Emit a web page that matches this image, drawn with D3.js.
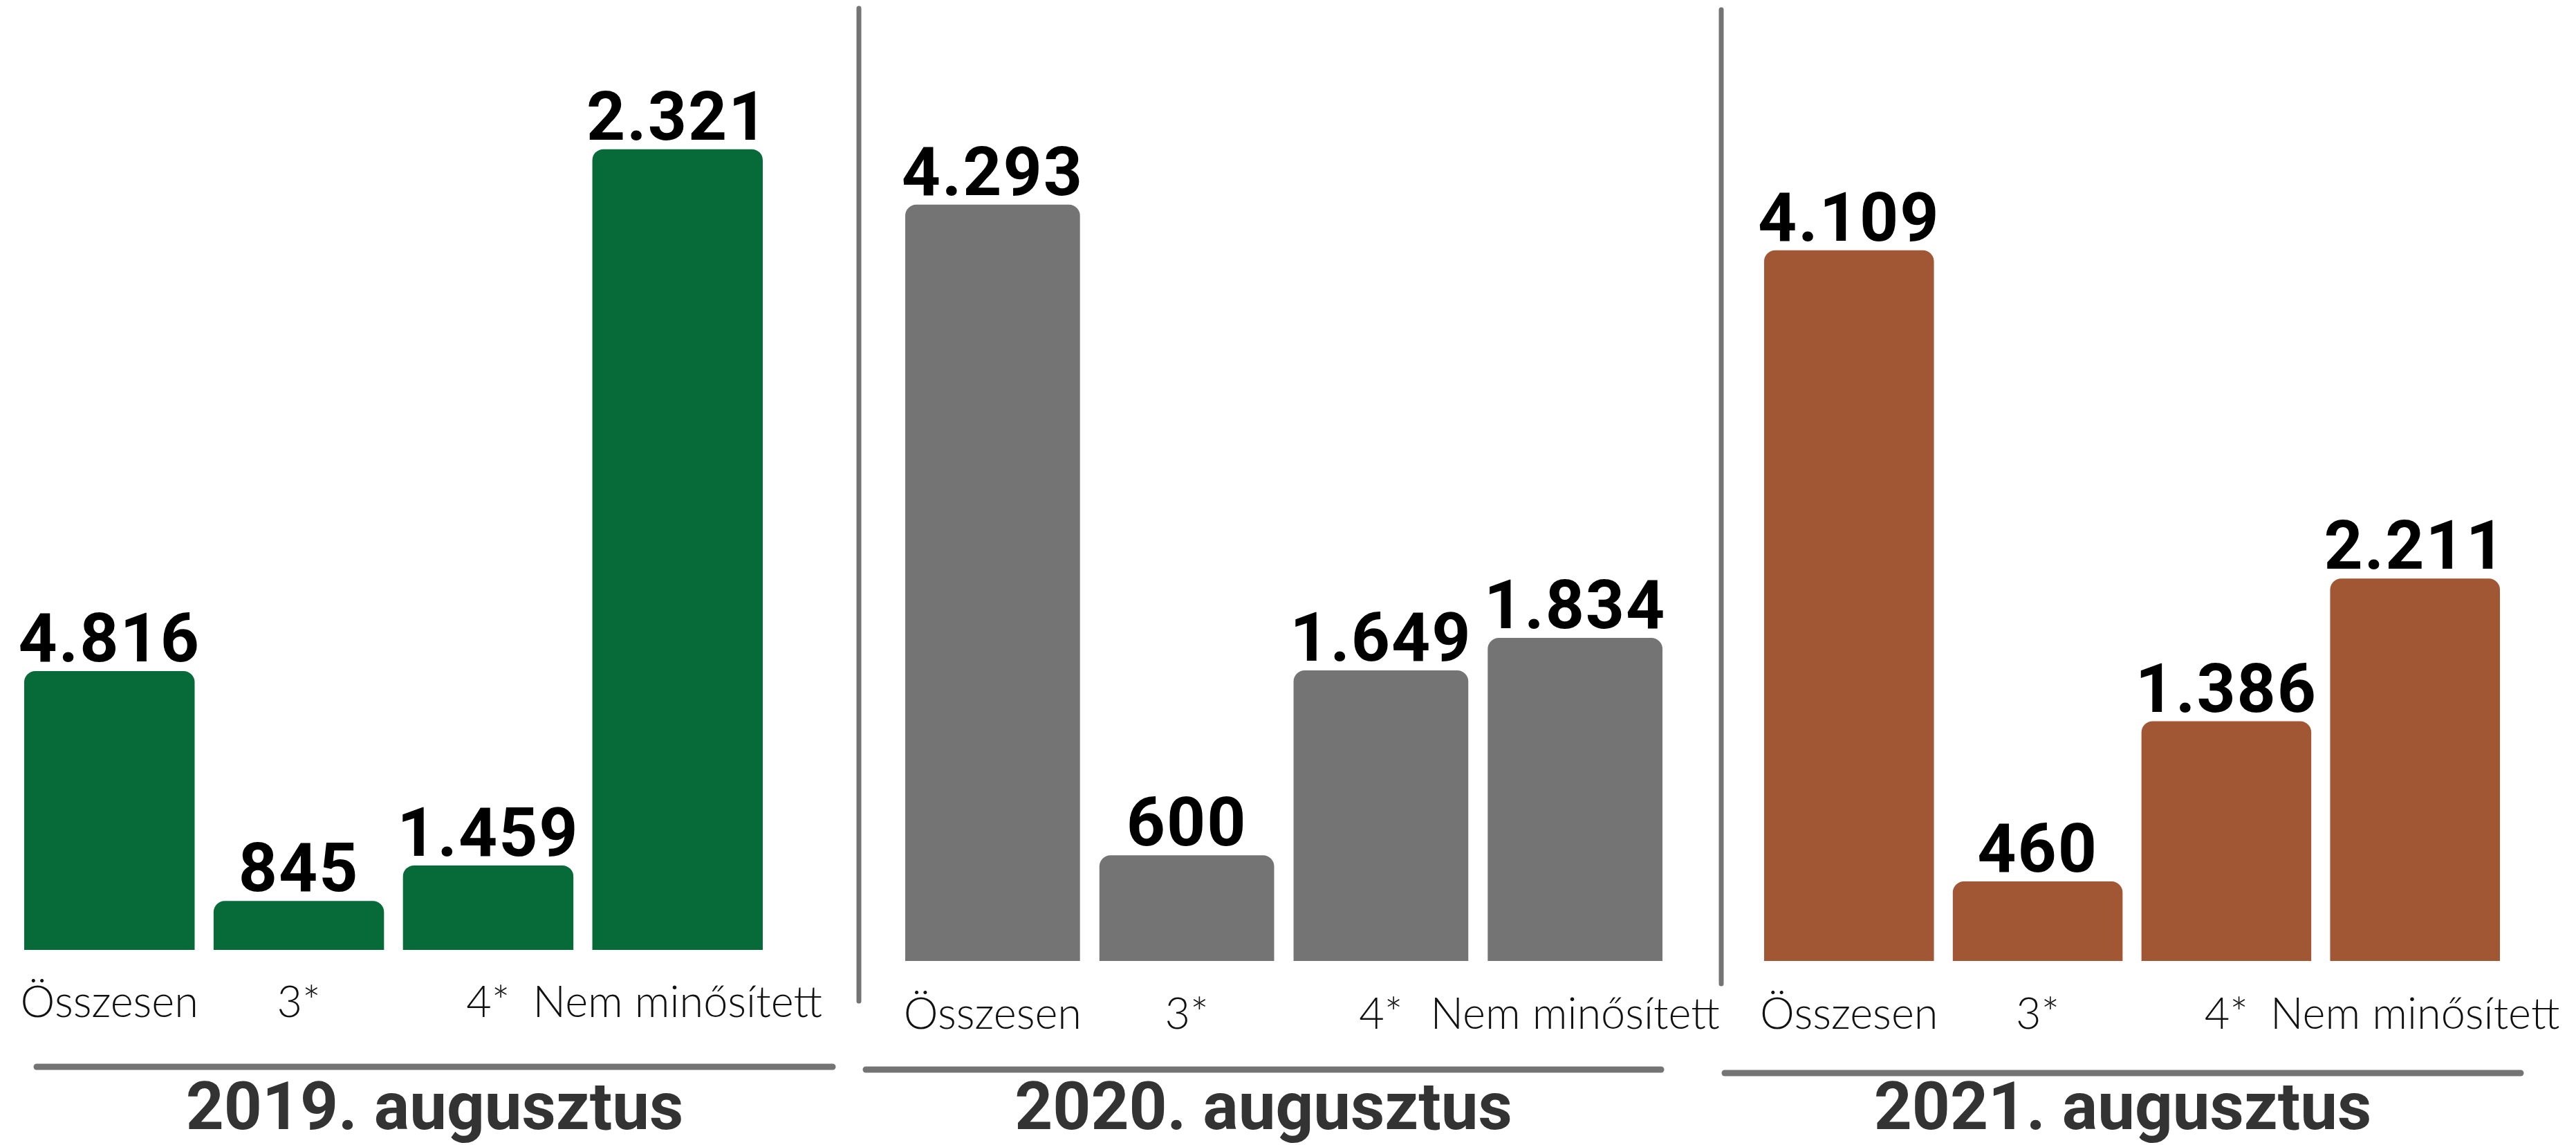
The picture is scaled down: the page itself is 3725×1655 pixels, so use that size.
<!DOCTYPE html>
<html>
<head>
<meta charset="utf-8">
<script src="https://cdn.jsdelivr.net/npm/d3@7"></script>
<style>
  html, body { margin: 0; padding: 0; background: #ffffff; }
  svg { display: block; }
</style>
</head>
<body>
<svg id="chart" width="3725" height="1655"></svg>
<script>
// ---------------- DATA ----------------
const categories = ["Összesen", "3*", "4*", "Nem minősített"];
const periods = ["2019. augusztus", "2020. augusztus", "2021. augusztus"];
const values2019 = [4816, 845, 1459, 2321];
const values2020 = [4293, 600, 1649, 1834];
const values2021 = [4109, 460, 1386, 2211];
// Bar heights as drawn in the original graphic (the 2019 "Nem minősített" bar
// is drawn far taller than its 2.321 label; read off the picture)
const drawn2019 = [4816, 845, 1459, 13830];
const drawn2020 = [4293, 600, 1649, 1834];
const drawn2021 = [4109, 460, 1386, 2211];
const colors = ["#066b39", "#737473", "#a15634"];

// ---------------- LAYOUT ----------------
const panels = [
  { values: values2019, drawn: drawn2019, x0: 35,   x1: 1103, base: 1373, unitsPerPx: 11.95, catY: 1470, ruleX: [53, 1204],   ruleY: 1542, titleY: 1632 },
  { values: values2020, drawn: drawn2020, x0: 1309, x1: 2404, base: 1389, unitsPerPx: 3.927, catY: 1487, ruleX: [1252, 2402], ruleY: 1546, titleY: 1632 },
  { values: values2021, drawn: drawn2021, x0: 2551, x1: 3615, base: 1389, unitsPerPx: 4.0,   catY: 1487, ruleX: [2494, 3645], ruleY: 1551, titleY: 1632 }
];
const separators = [ { x: 1242, y0: 12, y1: 1447 }, { x: 2489, y0: 14, y1: 1422 } ];

const fmt = d3.formatLocale({ decimal: ",", thousands: ".", grouping: [3], currency: ["", ""] }).format(",d");
const svg = d3.select("#chart");
const radius = 16;

function topRoundedBar(x, y, w, h, r) {
  r = Math.min(r, h, w / 2);
  const p = d3.path();
  p.moveTo(x, y + h);
  p.lineTo(x, y + r);
  p.arcTo(x, y, x + r, y, r);
  p.lineTo(x + w - r, y);
  p.arcTo(x + w, y, x + w, y + r, r);
  p.lineTo(x + w, y + h);
  p.closePath();
  return p.toString();
}

panels.forEach((pn, i) => {
  const g = svg.append("g");
  const x = d3.scaleBand().domain(categories).range([pn.x0, pn.x1]).paddingInner(0.1).paddingOuter(0);
  const y = d3.scaleLinear().domain([0, pn.base * pn.unitsPerPx]).range([pn.base, 0]);
  const rows = categories.map((c, k) => ({ cat: c, value: pn.values[k], drawn: pn.drawn[k] }));

  g.selectAll("path.bar").data(rows).join("path")
    .attr("class", "bar")
    .attr("fill", colors[i])
    .attr("d", d => topRoundedBar(x(d.cat), y(d.drawn), x.bandwidth(), y(0) - y(d.drawn), radius));

  g.selectAll("text.val").data(rows).join("text")
    .attr("class", "val")
    .attr("x", d => x(d.cat) + x.bandwidth() / 2)
    .attr("y", d => y(d.drawn) - 14)
    .attr("text-anchor", "middle")
    .attr("font-family", "Roboto, 'Liberation Sans', sans-serif")
    .attr("font-weight", 700)
    .attr("font-size", 98)
    .attr("letter-spacing", 2)
    .attr("fill", "#000")
    .text(d => fmt(d.value));

  g.selectAll("text.cat").data(rows).join("text")
    .attr("class", "cat")
    .attr("x", d => x(d.cat) + x.bandwidth() / 2)
    .attr("y", pn.catY)
    .attr("text-anchor", "middle")
    .attr("font-family", "Lato, 'Open Sans', sans-serif")
    .attr("font-weight", 300)
    .attr("font-size", 63)
    .attr("fill", "#111")
    .text(d => d.cat);

  g.append("line")
    .attr("x1", pn.ruleX[0]).attr("x2", pn.ruleX[1])
    .attr("y1", pn.ruleY).attr("y2", pn.ruleY)
    .attr("stroke", "#737473").attr("stroke-width", 9).attr("stroke-linecap", "round");

  g.append("text")
    .attr("x", (pn.ruleX[0] + pn.ruleX[1]) / 2)
    .attr("y", pn.titleY)
    .attr("text-anchor", "middle")
    .attr("font-family", "Roboto, 'Liberation Sans', sans-serif")
    .attr("font-weight", 700)
    .attr("font-size", 96)
    .attr("fill", "#333333")
    .text(periods[i]);
});

svg.selectAll("line.sep").data(separators).join("line")
  .attr("class", "sep")
  .attr("x1", d => d.x).attr("x2", d => d.x)
  .attr("y1", d => d.y0).attr("y2", d => d.y1)
  .attr("stroke", "#737473").attr("stroke-width", 7).attr("stroke-linecap", "round");
</script>
</body>
</html>
